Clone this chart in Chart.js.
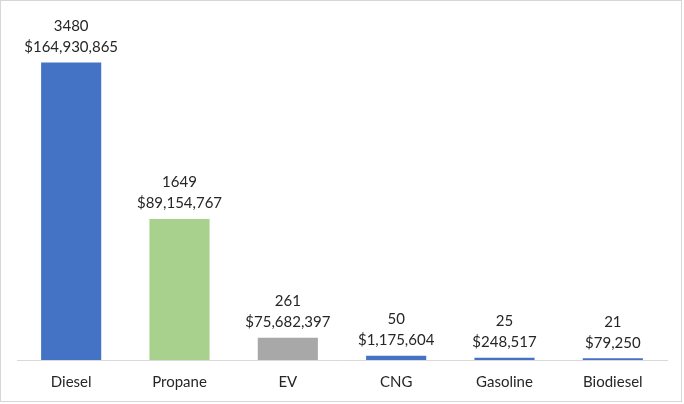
<!DOCTYPE html>
<html>
<head>
<meta charset="utf-8">
<script src="https://cdn.jsdelivr.net/npm/chart.js@4.4.1/dist/chart.umd.min.js"></script>
<style>
  html, body { margin: 0; padding: 0; background: #fff; }
  #frame {
    position: absolute; left: 0; top: 0;
    width: 682px; height: 402px;
    border: 1px solid #d6d6d6;
    box-sizing: border-box;
  }
  #wrap { position: absolute; left: 0; top: 0; width: 684px; height: 404px; }
</style>
</head>
<body>
<div id="wrap"><canvas id="fuelChart" width="684" height="404"></canvas></div>
<div id="frame"></div>
<script>
const fuelTypes = ["Diesel", "Propane", "EV", "CNG", "Gasoline", "Biodiesel"];
const vehicleCounts = [3480, 1649, 261, 50, 25, 21];
const fundingAmounts = ["$164,930,865", "$89,154,767", "$75,682,397", "$1,175,604", "$248,517", "$79,250"];
const barColors = ["#4472C4", "#A9D18E", "#A9A8A8", "#4472C4", "#4472C4", "#4472C4"];

const labelFont = "15px Lato, 'Open Sans', sans-serif";

// two-line label above each bar: count, then dollar amount
const barLabels = {
  id: "barLabels",
  afterDatasetsDraw(chart) {
    const ctx = chart.ctx;
    const meta = chart.getDatasetMeta(0);
    ctx.save();
    ctx.font = labelFont;
    ctx.fillStyle = "#262626";
    ctx.textAlign = "center";
    ctx.textBaseline = "middle";
    meta.data.forEach((bar, i) => {
      ctx.fillText(String(vehicleCounts[i]), bar.x, bar.y - 36.5);
      ctx.fillText(fundingAmounts[i], bar.x, bar.y - 15.5);
    });
    ctx.restore();
  },
};

new Chart(document.getElementById("fuelChart"), {
  type: "bar",
  data: {
    labels: fuelTypes,
    datasets: [{
      data: vehicleCounts,
      backgroundColor: barColors,
      barPercentage: 0.555,
      categoryPercentage: 1,
    }],
  },
  options: {
    responsive: false,
    animation: false,
    layout: { padding: { left: 17, right: 17, top: 18, bottom: 0 } },
    plugins: { legend: { display: false }, tooltip: { enabled: false } },
    scales: {
      x: {
        grid: { display: false, drawTicks: false },
        border: { display: true, color: "#d9d9d9", width: 1 },
        ticks: {
          color: "#262626",
          font: { family: "Lato, 'Open Sans', sans-serif", size: 15 },
          padding: 13,
        },
      },
      y: {
        display: false,
        min: 0,
        max: 4000,
      },
    },
  },
  plugins: [barLabels],
});
</script>
</body>
</html>
